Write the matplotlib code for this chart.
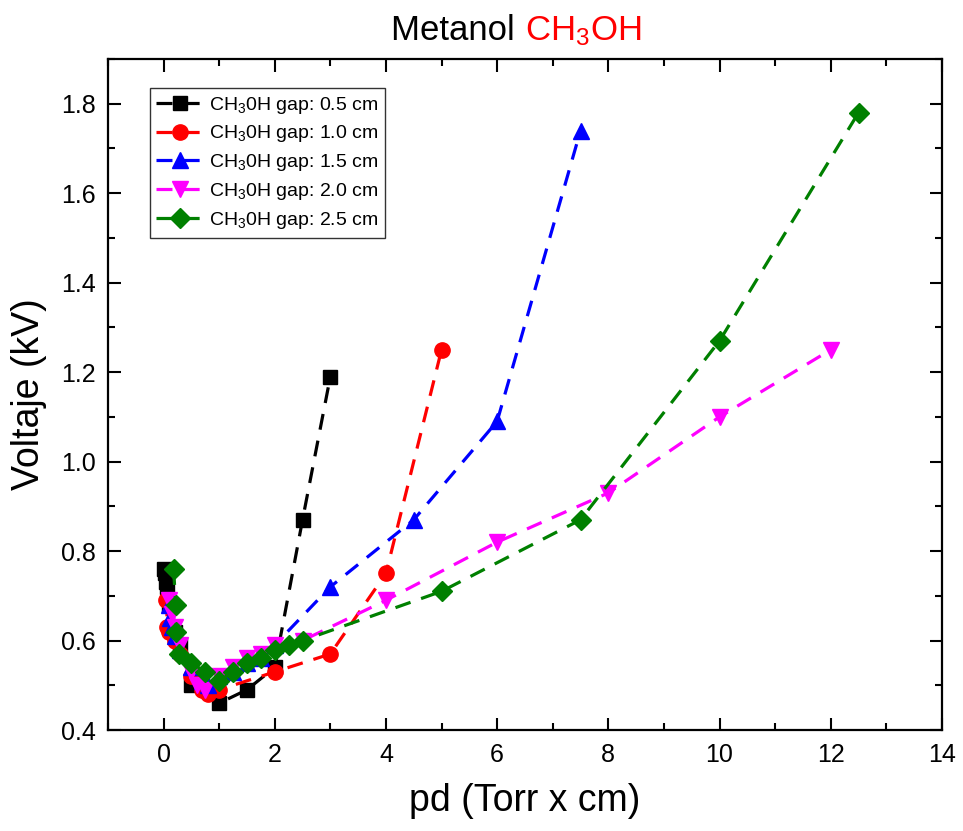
import matplotlib
matplotlib.use('Agg')
import matplotlib.pyplot as plt
from matplotlib.ticker import MultipleLocator

plt.rcParams['font.family'] = ['Liberation Sans', 'DejaVu Sans']
plt.rcParams['mathtext.default'] = 'regular'

# gap 0.5 cm
x05 = [0.0, 0.02, 0.04, 0.06, 0.1, 0.2, 0.3, 0.5, 1.0, 1.5, 2.0, 2.5, 3.0]
y05 = [0.76, 0.75, 0.73, 0.72, 0.68, 0.62, 0.59, 0.50, 0.46, 0.49, 0.54, 0.87, 1.19]
# gap 1.0 cm
x10 = [0.05, 0.07, 0.1, 0.2, 0.3, 0.5, 0.7, 0.8, 1.0, 2.0, 3.0, 4.0, 5.0]
y10 = [0.69, 0.63, 0.62, 0.60, 0.57, 0.52, 0.49, 0.48, 0.49, 0.53, 0.57, 0.75, 1.25]
# gap 1.5 cm
x15 = [0.1, 0.12, 0.15, 0.2, 0.3, 0.5, 0.7, 0.8, 1.0, 1.25, 1.5, 1.75, 2.0, 3.0, 4.5, 6.0, 7.5]
y15 = [0.68, 0.65, 0.63, 0.61, 0.58, 0.54, 0.51, 0.50, 0.52, 0.53, 0.55, 0.56, 0.59, 0.72, 0.87, 1.09, 1.74]
# gap 2.0 cm
x20 = [0.1, 0.15, 0.2, 0.3, 0.5, 0.6, 0.75, 1.0, 1.25, 1.5, 1.75, 2.0, 2.5, 4.0, 6.0, 8.0, 10.0, 12.0]
y20 = [0.69, 0.66, 0.63, 0.59, 0.53, 0.50, 0.49, 0.52, 0.54, 0.56, 0.57, 0.59, 0.60, 0.69, 0.82, 0.93, 1.10, 1.25]
# gap 2.5 cm
x25 = [0.18, 0.22, 0.23, 0.27, 0.5, 0.75, 1.0, 1.25, 1.5, 1.75, 2.0, 2.25, 2.5, 5.0, 7.5, 10.0, 12.5]
y25 = [0.76, 0.68, 0.62, 0.57, 0.55, 0.53, 0.51, 0.53, 0.55, 0.56, 0.58, 0.59, 0.60, 0.71, 0.87, 1.27, 1.78]

series = [
    (x05, y05, 'black', 's', 10, 'CH$_3$0H gap: 0.5 cm'),
    (x10, y10, 'red', 'o', 11, 'CH$_3$0H gap: 1.0 cm'),
    (x15, y15, 'blue', '^', 12, 'CH$_3$0H gap: 1.5 cm'),
    (x20, y20, 'magenta', 'v', 12, 'CH$_3$0H gap: 2.0 cm'),
    (x25, y25, 'green', 'D', 10, 'CH$_3$0H gap: 2.5 cm'),
]

fig = plt.figure(figsize=(9.63, 8.31), dpi=100)
ax = fig.add_axes([0.1121, 0.1215, 0.8660, 0.8075])

for X, Y, c, m, ms, lab in series:
    ax.plot(X, Y, color=c, marker=m, markersize=ms, linewidth=2.3,
            linestyle=(0, (5, 3.5)), label=lab)

ax.set_xlim(-1, 14)
ax.set_ylim(0.4, 1.9)
ax.xaxis.set_major_locator(MultipleLocator(2))
ax.xaxis.set_minor_locator(MultipleLocator(1))
ax.yaxis.set_major_locator(MultipleLocator(0.2))
ax.yaxis.set_minor_locator(MultipleLocator(0.1))
ax.tick_params(which='both', direction='in', top=True, right=True,
               labelsize=18, width=1.5)
ax.tick_params(which='major', length=9, pad=9)
ax.tick_params(which='minor', length=5)
for s in ax.spines.values():
    s.set_linewidth(1.6)

ax.set_xlabel('pd (Torr x cm)', fontsize=27, labelpad=12)
ax.set_ylabel('Voltaje (kV)', fontsize=27, labelpad=10)

leg = ax.legend(loc='upper left', bbox_to_anchor=(0.05, 0.957), fontsize=14,
                frameon=True, fancybox=False, edgecolor='black',
                handlelength=2.4, handletextpad=0.3, labelspacing=0.4,
                borderpad=0.35, borderaxespad=0)
leg.get_frame().set_linewidth(1.0)

# two-colour title
fig.canvas.draw()
r = fig.canvas.get_renderer()
t1 = fig.text(0, 0.952, 'Metanol ', fontsize=25, ha='left', va='baseline')
t2 = fig.text(0, 0.952, 'CH$_3$OH', fontsize=25, ha='left', va='baseline', color='red')
w1 = t1.get_window_extent(r).width / fig.bbox.width
w2 = t2.get_window_extent(r).width / fig.bbox.width
x0 = 0.536 - (w1 + w2) / 2
t1.set_x(x0)
t2.set_x(x0 + w1)

fig.savefig('out.png', dpi=100)
